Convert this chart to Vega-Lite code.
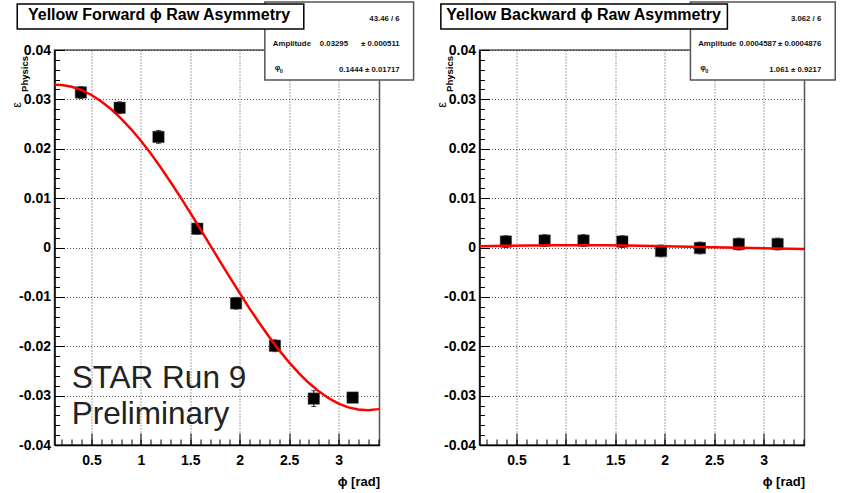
{
  "$schema": "https://vega.github.io/schema/vega-lite/v6.json",
  "padding": {"left": 9.5, "top": 0, "right": 0, "bottom": 0},
  "bounds": "flush",
  "spacing": 100,
  "background": "white",
  "config": {
    "view": {"stroke": "#555", "strokeWidth": 1.5},
    "axis": {"labelFont": "Liberation Sans", "labelFontWeight": "bold", "labelFontSize": 14, "labelColor": "#000", "domainColor": "#000", "domainWidth": 1.5, "tickColor": "#000", "tickWidth": 1, "gridColor": "#222", "gridDash": [1, 2], "gridWidth": 1, "gridOpacity": 0.8, "titleFont": "Liberation Sans", "titleFontWeight": "bold", "titleFontSize": 13, "titleColor": "#000", "labelFlush": false},
    "text": {"font": "Liberation Sans", "color": "#000"}
  },
  "datasets": {
    "one": [{"k": 1}],
    "fwd": [
      {"phi": 0.393, "eps": 0.0314, "err": 0.0012},
      {"phi": 0.785, "eps": 0.0283, "err": 0.0012},
      {"phi": 1.178, "eps": 0.0224, "err": 0.0013},
      {"phi": 1.571, "eps": 0.0038, "err": 0.0011},
      {"phi": 1.963, "eps": -0.0113, "err": 0.0012},
      {"phi": 2.356, "eps": -0.0199, "err": 0.0012},
      {"phi": 2.749, "eps": -0.0306, "err": 0.0016},
      {"phi": 3.142, "eps": -0.0304, "err": 0.0008}
    ],
    "bwd": [
      {"phi": 0.393, "eps": 0.0012, "err": 0.0012},
      {"phi": 0.785, "eps": 0.0014, "err": 0.0012},
      {"phi": 1.178, "eps": 0.0014, "err": 0.0012},
      {"phi": 1.571, "eps": 0.0012, "err": 0.0012},
      {"phi": 1.963, "eps": -0.0007, "err": 0.0012},
      {"phi": 2.356, "eps": -0.0001, "err": 0.0012},
      {"phi": 2.749, "eps": 0.0007, "err": 0.0012},
      {"phi": 3.142, "eps": 0.0007, "err": 0.0012}
    ],
    "fwdfit": [
      {"phi": 0.126, "eps": 0.03294}, {"phi": 0.2, "eps": 0.0329}, {"phi": 0.3, "eps": 0.03255},
      {"phi": 0.4, "eps": 0.03188}, {"phi": 0.5, "eps": 0.03089}, {"phi": 0.6, "eps": 0.02959},
      {"phi": 0.7, "eps": 0.02799}, {"phi": 0.8, "eps": 0.02612}, {"phi": 0.9, "eps": 0.02399},
      {"phi": 1.0, "eps": 0.02161}, {"phi": 1.1, "eps": 0.01902}, {"phi": 1.2, "eps": 0.01623},
      {"phi": 1.3, "eps": 0.01328}, {"phi": 1.4, "eps": 0.0102}, {"phi": 1.5, "eps": 0.007},
      {"phi": 1.6, "eps": 0.003788}, {"phi": 1.7, "eps": 0.000501}, {"phi": 1.8, "eps": -0.002791},
      {"phi": 1.9, "eps": -0.006055}, {"phi": 2.0, "eps": -0.009258}, {"phi": 2.1, "eps": -0.012368},
      {"phi": 2.2, "eps": -0.015355}, {"phi": 2.3, "eps": -0.018188}, {"phi": 2.4, "eps": -0.020843},
      {"phi": 2.5, "eps": -0.023283}, {"phi": 2.6, "eps": -0.025497}, {"phi": 2.7, "eps": -0.027459},
      {"phi": 2.8, "eps": -0.029137}, {"phi": 2.9, "eps": -0.030525}, {"phi": 3.0, "eps": -0.031611},
      {"phi": 3.1, "eps": -0.032382}, {"phi": 3.2, "eps": -0.032828}, {"phi": 3.3, "eps": -0.032947},
      {"phi": 3.4, "eps": -0.032736}, {"phi": 3.414, "eps": -0.03268}
    ],
    "bwdfit": [
      {"phi": 0.126, "eps": 0.000272}, {"phi": 0.375, "eps": 0.000355}, {"phi": 0.625, "eps": 0.000416},
      {"phi": 0.875, "eps": 0.000451}, {"phi": 1.125, "eps": 0.000458}, {"phi": 1.375, "eps": 0.000436},
      {"phi": 1.625, "eps": 0.000388}, {"phi": 1.875, "eps": 0.000315}, {"phi": 2.125, "eps": 0.000222},
      {"phi": 2.375, "eps": 0.000116}, {"phi": 2.625, "eps": 0.000003}, {"phi": 2.875, "eps": -0.00011},
      {"phi": 3.125, "eps": -0.000217}, {"phi": 3.414, "eps": -0.000323}
    ]
  },
  "hconcat": [
    {
      "width": 325,
      "height": 395,
      "resolve": {"axis": {"x": "independent", "y": "independent"}},
      "layer": [
        {
          "data": {"name": "fwd"},
          "mark": {"type": "errorbar", "ticks": {"size": 5, "color": "#000"}, "color": "#000"},
          "encoding": {
            "x": {"field": "phi", "type": "quantitative", "axis": null},
            "y": {"field": "eps", "type": "quantitative", "axis": null},
            "yError": {"field": "err"}
          }
        },
        {
          "data": {"name": "fwd"},
          "mark": {"type": "square", "size": 130, "color": "#000", "opacity": 1, "stroke": "#444", "strokeWidth": 0.5},
          "encoding": {
            "x": {"field": "phi", "type": "quantitative", "scale": {"domain": [0.126, 3.414], "nice": false, "zero": false},
              "axis": {"orient": "bottom", "values": [0.5, 1, 1.5, 2, 2.5, 3], "grid": true, "tickSize": -12, "labelPadding": 20, "format": "~g", "title": "ϕ [rad]", "titleAnchor": "end", "titlePadding": 8}},
            "y": {"field": "eps", "type": "quantitative", "scale": {"domain": [-0.04, 0.04], "nice": false, "zero": false},
              "axis": {"orient": "left", "values": [-0.04, -0.03, -0.02, -0.01, 0, 0.01, 0.02, 0.03, 0.04], "grid": true, "tickSize": -10, "labelPadding": 14, "format": "~g", "labelExpr": "replace(datum.label, '\u2212', '-')", "title": null}}
          }
        },
        {
          "data": {"name": "fwdfit"},
          "mark": {"type": "line", "color": "#ff0000", "strokeWidth": 2.5, "clip": true},
          "encoding": {
            "x": {"field": "phi", "type": "quantitative",
              "axis": {"orient": "bottom", "values": [0.2, 0.3, 0.4, 0.5, 0.6, 0.7, 0.8, 0.9, 1.0, 1.1, 1.2, 1.3, 1.4, 1.5, 1.6, 1.7, 1.8, 1.9, 2.0, 2.1, 2.2, 2.3, 2.4, 2.5, 2.6, 2.7, 2.8, 2.9, 3.0, 3.1, 3.2, 3.3, 3.4], "labels": false, "domain": false, "grid": false, "tickSize": -6, "title": null}},
            "y": {"field": "eps", "type": "quantitative",
              "axis": {"orient": "left", "values": [-0.038, -0.036, -0.034, -0.032, -0.03, -0.028, -0.026, -0.024, -0.022, -0.02, -0.018, -0.016, -0.014, -0.012, -0.01, -0.008, -0.006, -0.004, -0.002, 0, 0.002, 0.004, 0.006, 0.008, 0.01, 0.012, 0.014, 0.016, 0.018, 0.02, 0.022, 0.024, 0.026, 0.028, 0.03, 0.032, 0.034, 0.036, 0.038], "labels": false, "domain": false, "grid": false, "tickSize": -5, "title": null}}
          }
        },
        {
          "data": {"name": "one"},
          "mark": {"type": "text", "text": "STAR Run 9", "fontSize": 31.5, "color": "#222", "align": "left", "baseline": "alphabetic", "clip": false},
          "encoding": {"x": {"datum": 0.3, "type": "quantitative", "axis": null}, "y": {"datum": -0.02847, "type": "quantitative", "axis": null}}
        },
        {
          "data": {"name": "one"},
          "mark": {"type": "text", "text": "Preliminary", "fontSize": 31.5, "color": "#222", "align": "left", "baseline": "alphabetic", "clip": false},
          "encoding": {"x": {"datum": 0.3, "type": "quantitative", "axis": null}, "y": {"datum": -0.0357, "type": "quantitative", "axis": null}}
        },
        {
          "data": {"name": "one"},
          "mark": {"type": "text", "text": "Physics", "fontSize": 9.5, "fontWeight": "bold", "angle": 270, "align": "right", "baseline": "middle", "clip": false},
          "encoding": {"x": {"datum": -0.177, "type": "quantitative", "axis": null}, "y": {"datum": 0.03879, "type": "quantitative", "axis": null}}
        },
        {
          "data": {"name": "one"},
          "mark": {"type": "text", "text": "ε", "fontSize": 13, "angle": 270, "align": "center", "baseline": "middle", "clip": false},
          "encoding": {"x": {"datum": -0.258, "type": "quantitative", "axis": null}, "y": {"datum": 0.02887, "type": "quantitative", "axis": null}}
        },
        {
          "data": {"name": "one"},
          "mark": {"type": "rect", "fill": "white", "stroke": "#555", "strokeWidth": 1.5, "clip": false},
          "encoding": {"x": {"datum": 2.254, "type": "quantitative", "axis": null}, "x2": {"datum": 3.759}, "y": {"datum": 0.04972, "type": "quantitative", "axis": null}, "y2": {"datum": 0.03393}}
        },
        {
          "data": {"name": "one"},
          "mark": {"type": "text", "text": "43.46 / 6", "fontSize": 7.8, "fontWeight": "bold", "color": "#111", "align": "right", "baseline": "alphabetic", "clip": false},
          "encoding": {"x": {"datum": 3.618, "type": "quantitative", "axis": null}, "y": {"datum": 0.04593, "type": "quantitative", "axis": null}}
        },
        {
          "data": {"name": "one"},
          "mark": {"type": "text", "text": "Amplitude", "fontSize": 7.8, "fontWeight": "bold", "color": "#111", "align": "left", "baseline": "alphabetic", "clip": false},
          "encoding": {"x": {"datum": 2.335, "type": "quantitative", "axis": null}, "y": {"datum": 0.04075, "type": "quantitative", "axis": null}}
        },
        {
          "data": {"name": "one"},
          "mark": {"type": "text", "text": "0.03295", "fontSize": 7.8, "fontWeight": "bold", "color": "#111", "align": "left", "baseline": "alphabetic", "clip": false},
          "encoding": {"x": {"datum": 2.81, "type": "quantitative", "axis": null}, "y": {"datum": 0.04075, "type": "quantitative", "axis": null}}
        },
        {
          "data": {"name": "one"},
          "mark": {"type": "text", "text": "± 0.000511", "fontSize": 7.8, "fontWeight": "bold", "color": "#111", "align": "right", "baseline": "alphabetic", "clip": false},
          "encoding": {"x": {"datum": 3.618, "type": "quantitative", "axis": null}, "y": {"datum": 0.04075, "type": "quantitative", "axis": null}}
        },
        {
          "data": {"name": "one"},
          "mark": {"type": "text", "text": "φ", "fontSize": 7.8, "fontWeight": "bold", "color": "#111", "align": "left", "baseline": "alphabetic", "clip": false},
          "encoding": {"x": {"datum": 2.355, "type": "quantitative", "axis": null}, "y": {"datum": 0.03585, "type": "quantitative", "axis": null}}
        },
        {
          "data": {"name": "one"},
          "mark": {"type": "text", "text": "0", "fontSize": 5.5, "fontWeight": "bold", "color": "#111", "align": "left", "baseline": "alphabetic", "clip": false},
          "encoding": {"x": {"datum": 2.405, "type": "quantitative", "axis": null}, "y": {"datum": 0.03529, "type": "quantitative", "axis": null}}
        },
        {
          "data": {"name": "one"},
          "mark": {"type": "text", "text": "0.1444  ± 0.01717", "fontSize": 7.8, "fontWeight": "bold", "color": "#111", "align": "right", "baseline": "alphabetic", "clip": false},
          "encoding": {"x": {"datum": 3.618, "type": "quantitative", "axis": null}, "y": {"datum": 0.03549, "type": "quantitative", "axis": null}}
        },
        {
          "data": {"name": "one"},
          "mark": {"type": "rect", "fill": "white", "stroke": "#000", "strokeWidth": 1.5, "clip": false},
          "encoding": {"x": {"datum": -0.251, "type": "quantitative", "axis": null}, "x2": {"datum": 2.648}, "y": {"datum": 0.04931, "type": "quantitative", "axis": null}, "y2": {"datum": 0.04425}}
        },
        {
          "data": {"name": "one"},
          "mark": {"type": "text", "text": "Yellow Forward ϕ Raw Asymmetry", "fontSize": 16, "fontWeight": "bold", "align": "center", "baseline": "alphabetic", "clip": false},
          "encoding": {"x": {"datum": 1.1836, "type": "quantitative", "axis": null}, "y": {"datum": 0.04613, "type": "quantitative", "axis": null}}
        }
      ]
    },
    {
      "width": 325,
      "height": 395,
      "resolve": {"axis": {"x": "independent", "y": "independent"}},
      "layer": [
        {
          "data": {"name": "bwd"},
          "mark": {"type": "errorbar", "ticks": {"size": 5, "color": "#000"}, "color": "#000"},
          "encoding": {
            "x": {"field": "phi", "type": "quantitative", "axis": null},
            "y": {"field": "eps", "type": "quantitative", "axis": null},
            "yError": {"field": "err"}
          }
        },
        {
          "data": {"name": "bwd"},
          "mark": {"type": "square", "size": 130, "color": "#000", "opacity": 1, "stroke": "#444", "strokeWidth": 0.5},
          "encoding": {
            "x": {"field": "phi", "type": "quantitative", "scale": {"domain": [0.126, 3.414], "nice": false, "zero": false},
              "axis": {"orient": "bottom", "values": [0.5, 1, 1.5, 2, 2.5, 3], "grid": true, "tickSize": -12, "labelPadding": 20, "format": "~g", "title": "ϕ [rad]", "titleAnchor": "end", "titlePadding": 8}},
            "y": {"field": "eps", "type": "quantitative", "scale": {"domain": [-0.04, 0.04], "nice": false, "zero": false},
              "axis": {"orient": "left", "values": [-0.04, -0.03, -0.02, -0.01, 0, 0.01, 0.02, 0.03, 0.04], "grid": true, "tickSize": -10, "labelPadding": 14, "format": "~g", "labelExpr": "replace(datum.label, '\u2212', '-')", "title": null}}
          }
        },
        {
          "data": {"name": "bwdfit"},
          "mark": {"type": "line", "color": "#ff0000", "strokeWidth": 2.5, "clip": true},
          "encoding": {
            "x": {"field": "phi", "type": "quantitative",
              "axis": {"orient": "bottom", "values": [0.2, 0.3, 0.4, 0.5, 0.6, 0.7, 0.8, 0.9, 1.0, 1.1, 1.2, 1.3, 1.4, 1.5, 1.6, 1.7, 1.8, 1.9, 2.0, 2.1, 2.2, 2.3, 2.4, 2.5, 2.6, 2.7, 2.8, 2.9, 3.0, 3.1, 3.2, 3.3, 3.4], "labels": false, "domain": false, "grid": false, "tickSize": -6, "title": null}},
            "y": {"field": "eps", "type": "quantitative",
              "axis": {"orient": "left", "values": [-0.038, -0.036, -0.034, -0.032, -0.03, -0.028, -0.026, -0.024, -0.022, -0.02, -0.018, -0.016, -0.014, -0.012, -0.01, -0.008, -0.006, -0.004, -0.002, 0, 0.002, 0.004, 0.006, 0.008, 0.01, 0.012, 0.014, 0.016, 0.018, 0.02, 0.022, 0.024, 0.026, 0.028, 0.03, 0.032, 0.034, 0.036, 0.038], "labels": false, "domain": false, "grid": false, "tickSize": -5, "title": null}}
          }
        },
        {
          "data": {"name": "one"},
          "mark": {"type": "text", "text": "Physics", "fontSize": 9.5, "fontWeight": "bold", "angle": 270, "align": "right", "baseline": "middle", "clip": false},
          "encoding": {"x": {"datum": -0.177, "type": "quantitative", "axis": null}, "y": {"datum": 0.03879, "type": "quantitative", "axis": null}}
        },
        {
          "data": {"name": "one"},
          "mark": {"type": "text", "text": "ε", "fontSize": 13, "angle": 270, "align": "center", "baseline": "middle", "clip": false},
          "encoding": {"x": {"datum": -0.258, "type": "quantitative", "axis": null}, "y": {"datum": 0.02887, "type": "quantitative", "axis": null}}
        },
        {
          "data": {"name": "one"},
          "mark": {"type": "rect", "fill": "white", "stroke": "#555", "strokeWidth": 1.5, "clip": false},
          "encoding": {"x": {"datum": 2.26, "type": "quantitative", "axis": null}, "x2": {"datum": 3.725}, "y": {"datum": 0.04972, "type": "quantitative", "axis": null}, "y2": {"datum": 0.03393}}
        },
        {
          "data": {"name": "one"},
          "mark": {"type": "text", "text": "3.062 / 6", "fontSize": 7.8, "fontWeight": "bold", "color": "#111", "align": "right", "baseline": "alphabetic", "clip": false},
          "encoding": {"x": {"datum": 3.584, "type": "quantitative", "axis": null}, "y": {"datum": 0.04593, "type": "quantitative", "axis": null}}
        },
        {
          "data": {"name": "one"},
          "mark": {"type": "text", "text": "Amplitude", "fontSize": 7.8, "fontWeight": "bold", "color": "#111", "align": "left", "baseline": "alphabetic", "clip": false},
          "encoding": {"x": {"datum": 2.339, "type": "quantitative", "axis": null}, "y": {"datum": 0.04075, "type": "quantitative", "axis": null}}
        },
        {
          "data": {"name": "one"},
          "mark": {"type": "text", "text": "0.0004587", "fontSize": 7.8, "fontWeight": "bold", "color": "#111", "align": "left", "baseline": "alphabetic", "clip": false},
          "encoding": {"x": {"datum": 2.755, "type": "quantitative", "axis": null}, "y": {"datum": 0.04075, "type": "quantitative", "axis": null}}
        },
        {
          "data": {"name": "one"},
          "mark": {"type": "text", "text": "± 0.0004876", "fontSize": 7.8, "fontWeight": "bold", "color": "#111", "align": "right", "baseline": "alphabetic", "clip": false},
          "encoding": {"x": {"datum": 3.584, "type": "quantitative", "axis": null}, "y": {"datum": 0.04075, "type": "quantitative", "axis": null}}
        },
        {
          "data": {"name": "one"},
          "mark": {"type": "text", "text": "φ", "fontSize": 7.8, "fontWeight": "bold", "color": "#111", "align": "left", "baseline": "alphabetic", "clip": false},
          "encoding": {"x": {"datum": 2.36, "type": "quantitative", "axis": null}, "y": {"datum": 0.03585, "type": "quantitative", "axis": null}}
        },
        {
          "data": {"name": "one"},
          "mark": {"type": "text", "text": "0", "fontSize": 5.5, "fontWeight": "bold", "color": "#111", "align": "left", "baseline": "alphabetic", "clip": false},
          "encoding": {"x": {"datum": 2.41, "type": "quantitative", "axis": null}, "y": {"datum": 0.03529, "type": "quantitative", "axis": null}}
        },
        {
          "data": {"name": "one"},
          "mark": {"type": "text", "text": "1.061  ± 0.9217", "fontSize": 7.8, "fontWeight": "bold", "color": "#111", "align": "right", "baseline": "alphabetic", "clip": false},
          "encoding": {"x": {"datum": 3.584, "type": "quantitative", "axis": null}, "y": {"datum": 0.03549, "type": "quantitative", "axis": null}}
        },
        {
          "data": {"name": "one"},
          "mark": {"type": "rect", "fill": "white", "stroke": "#000", "strokeWidth": 1.5, "clip": false},
          "encoding": {"x": {"datum": -0.265, "type": "quantitative", "axis": null}, "x2": {"datum": 2.634}, "y": {"datum": 0.04931, "type": "quantitative", "axis": null}, "y2": {"datum": 0.04425}}
        },
        {
          "data": {"name": "one"},
          "mark": {"type": "text", "text": "Yellow Backward ϕ Raw Asymmetry", "fontSize": 16, "fontWeight": "bold", "align": "center", "baseline": "alphabetic", "clip": false},
          "encoding": {"x": {"datum": 1.1795, "type": "quantitative", "axis": null}, "y": {"datum": 0.04613, "type": "quantitative", "axis": null}}
        }
      ]
    }
  ]
}
